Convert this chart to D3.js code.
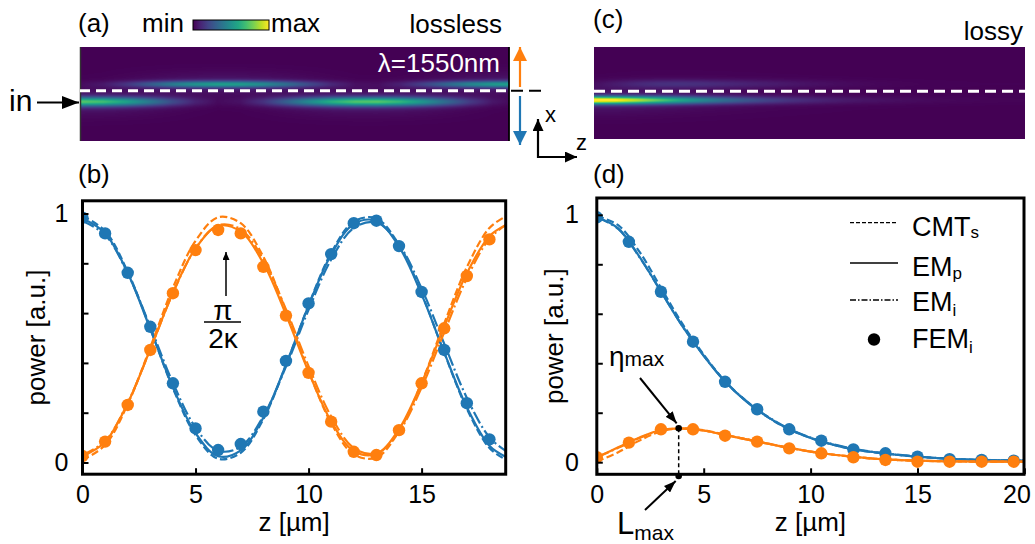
<!DOCTYPE html>
<html><head><meta charset="utf-8">
<script src="https://cdn.jsdelivr.net/npm/d3@7"></script>
<style>
html,body{margin:0;padding:0;background:#fff;}
svg{display:block;font-family:"Liberation Sans",Arial,Helvetica,sans-serif;}
</style></head>
<body><svg id="chart" width="1035" height="544"></svg>
<script>
// ---------------- DATA ----------------
// panel (b): lossless, z in µm
const zB = [0,1,2,3,4,5,6,7,8,9,10,11,12,13,14,15,16,17,18,18.72];
const blueCMT_B = [0.99,0.930,0.766,0.537,0.298,0.110,0.015,0.039,0.174,0.391,0.632,0.842,0.968,0.980,0.875,0.679,0.441,0.216,0.058,0.012];
const blueEMp_B = [0.98,0.921,0.761,0.536,0.302,0.118,0.025,0.049,0.180,0.393,0.630,0.835,0.958,0.970,0.867,0.675,0.442,0.222,0.067,0.023];
const blueEMi_B = [0.970,0.914,0.760,0.545,0.320,0.140,0.047,0.063,0.186,0.385,0.613,0.815,0.942,0.964,0.876,0.699,0.477,0.260,0.101,0.047];
const orangeCMT_B = [0.010,0.070,0.234,0.463,0.702,0.890,0.985,0.961,0.826,0.609,0.368,0.158,0.032,0.020,0.125,0.321,0.559,0.784,0.942,0.988];
const orangeEMp_B = [0.025,0.082,0.238,0.455,0.682,0.860,0.950,0.927,0.800,0.594,0.364,0.165,0.046,0.034,0.134,0.320,0.546,0.760,0.909,0.953];
const orangeEMi_B = [0.030,0.086,0.240,0.455,0.680,0.860,0.953,0.937,0.814,0.615,0.387,0.185,0.058,0.036,0.124,0.301,0.523,0.740,0.899,0.954];
const zFemB = [0,1,2,3,4,5,6,7,8,9,10,11,12,13,14,15,16,17,18];
const blueFem_B = [0.983,0.92,0.762,0.545,0.318,0.137,0.05,0.074,0.204,0.408,0.639,0.837,0.961,0.971,0.869,0.685,0.452,0.238,0.093];
const orangeFem_B = [0.026,0.084,0.231,0.452,0.68,0.853,0.934,0.92,0.786,0.59,0.36,0.164,0.043,0.03,0.13,0.318,0.539,0.749,0.896];

// panel (d): lossy
const zD = [0,1,2,3,4,5,6,7,8,9,10,11,12,13,14,15,16,17,18,19,20];
const blueCMT_D = [0.995,0.958,0.85,0.705,0.56,0.435,0.327,0.246,0.182,0.133,0.098,0.072,0.052,0.040,0.030,0.022,0.016,0.012,0.009,0.007,0.006];
const blueEMp_D = [0.99,0.945,0.83,0.69,0.55,0.43,0.325,0.245,0.182,0.133,0.098,0.072,0.052,0.040,0.030,0.022,0.016,0.012,0.009,0.007,0.006];
const blueEMi_D = [0.99,0.943,0.828,0.69,0.551,0.431,0.327,0.247,0.184,0.135,0.1,0.074,0.054,0.041,0.031,0.023,0.017,0.012,0.009,0.007,0.006];
const orangeCMT_D = [0.003,0.04,0.088,0.124,0.137,0.129,0.111,0.093,0.075,0.058,0.043,0.031,0.022,0.014,0.009,0.006,0.004,0.003,0.002,0.002,0.002];
const orangeEMp_D = [0.02,0.06,0.1,0.13,0.137,0.128,0.11,0.092,0.075,0.058,0.043,0.031,0.022,0.014,0.009,0.006,0.004,0.003,0.002,0.002,0.002];
const orangeEMi_D = [0.02,0.058,0.098,0.128,0.136,0.128,0.11,0.092,0.075,0.058,0.043,0.031,0.022,0.014,0.009,0.006,0.004,0.003,0.002,0.002,0.002];
const zFemD = [0,1.5,3,4.5,6,7.5,9,10.5,12,13.5,15,16.5,18,19.5];
const blueFem_D = [0.99,0.891,0.689,0.487,0.325,0.214,0.133,0.087,0.052,0.036,0.022,0.012,0.009,0.006];
const orangeFem_D = [0.02,0.079,0.133,0.133,0.107,0.083,0.056,0.036,0.02,0.009,0.002,0.002,0.002,0.002];
const etaMax = {z: 3.83, v: 0.137};

// ticks & labels
const xTicksB = [0,5,10,15];
const xTicksD = [0,5,10,15,20];
const yTicks = [0,0.2,0.4,0.6,0.8,1];
const yLabelled = [0,1];
const legendItems = [
  {name:"CMT", sub:"s", type:"dashed"},
  {name:"EM", sub:"p", type:"solid"},
  {name:"EM", sub:"i", type:"dashdot"},
  {name:"FEM", sub:"i", type:"dot"}
];

// ---------------- DRAW ----------------
const svg = d3.select('#chart');
const BLUE = '#1f77b4', ORANGE = '#ff7f0e';
const defs = svg.append('defs');

function marker(id, color, len, wid){
  defs.append('marker').attr('id', id)
    .attr('viewBox', `0 0 ${len} ${wid}`).attr('refX', len).attr('refY', wid/2)
    .attr('markerWidth', len).attr('markerHeight', wid)
    .attr('markerUnits', 'userSpaceOnUse').attr('orient', 'auto')
    .append('path').attr('d', `M0,0 L${len},${wid/2} L0,${wid} Z`).attr('fill', color);
}
marker('hIn', '#000', 17, 13);
marker('hOr', ORANGE, 14, 14);
marker('hBl', BLUE, 14, 14);
marker('hAx', '#000', 12, 11);
marker('hSm', '#000', 8, 7);
marker('hAn', '#000', 12, 9);

function arrow(x1,y1,x2,y2,color,mk,w){
  svg.append('line').attr('x1',x1).attr('y1',y1).attr('x2',x2).attr('y2',y2)
    .attr('stroke',color).attr('stroke-width',w).attr('marker-end',`url(#${mk})`);
}
function txt(x,y,s,size,anchor,color){
  return svg.append('text').attr('x',x).attr('y',y).attr('font-size',size)
    .attr('text-anchor',anchor||'start').attr('fill',color||'#000').text(s);
}

// heat maps --------------------------------------------------------
const lut = d3.range(256).map(i => d3.rgb(d3.interpolateViridis(i/255)));
function heat(o){
  const c = document.createElement('canvas'); c.width = o.w; c.height = o.h;
  const ctx = c.getContext('2d'); const img = ctx.createImageData(o.w, o.h);
  const fL = d3.scaleLinear().domain(o.z).range(o.lower).clamp(true);
  const fU = d3.scaleLinear().domain(o.z).range(o.upper).clamp(true);
  const zs = d3.scaleLinear().domain([0, o.w]).range([0, o.zMax]);
  for (let i = 0; i < o.w; i++){
    const z = zs(i + 0.5), pl = fL(z), pu = fU(z);
    for (let j = 0; j < o.h; j++){
      const yy = o.y + j + 0.5;
      const gL = Math.exp(-0.5*Math.pow((yy-o.cL)/o.sL,2));
      const gU = Math.exp(-0.5*Math.pow((yy-o.cU)/o.sU,2));
      const halo = Math.exp(-0.5*Math.pow((yy-o.cL)/9,2))*0.07*pl + Math.exp(-0.5*Math.pow((yy-o.cU)/8,2))*0.06*pu;
      let v = o.kL*pl*gL + o.kU*pu*gU + halo;
      v = Math.max(0, Math.min(1, v));
      const col = lut[Math.round(v*255)];
      const k = (j*o.w + i)*4;
      img.data[k] = col.r; img.data[k+1] = col.g; img.data[k+2] = col.b; img.data[k+3] = 255;
    }
  }
  ctx.putImageData(img, 0, 0);
  svg.append('image').attr('x', o.x).attr('y', o.y).attr('width', o.w).attr('height', o.h)
    .attr('preserveAspectRatio','none').attr('href', c.toDataURL());
}
heat({x:80, y:47, w:429, h:94, zMax:18.72, z:zB, lower:blueEMp_B, upper:orangeEMp_B,
      cL:101.7, sL:3.2, cU:84.3, sU:2.4, kL:0.68, kU:0.52});
heat({x:594, y:47, w:431, h:92, zMax:20, z:zD, lower:blueEMp_D, upper:orangeEMp_D,
      cL:100.2, sL:2.8, cU:84, sU:3, kL:1.0, kU:0.9});

// (a) decorations
svg.append('line').attr('x1',80.5).attr('x2',80.5).attr('y1',47).attr('y2',141).attr('stroke','#333').attr('stroke-width',1.5);
svg.append('line').attr('x1',509).attr('x2',509).attr('y1',47).attr('y2',141).attr('stroke','#000').attr('stroke-width',1.8);
svg.append('line').attr('x1',80).attr('x2',509).attr('y1',90.7).attr('y2',90.7)
  .attr('stroke','#fff').attr('stroke-width',3).attr('stroke-dasharray','10,6');
svg.append('line').attr('x1',511).attr('x2',543).attr('y1',90.7).attr('y2',90.7)
  .attr('stroke','#000').attr('stroke-width',2).attr('stroke-dasharray','12,6');
svg.append('line').attr('x1',594).attr('x2',1025).attr('y1',91.3).attr('y2',91.3)
  .attr('stroke','#fff').attr('stroke-width',3).attr('stroke-dasharray','11,6');

arrow(520, 87, 520, 47, ORANGE, 'hOr', 2.2);
arrow(520, 96, 520, 145, BLUE, 'hBl', 2.2);
arrow(37, 102.5, 79, 102.5, '#000', 'hIn', 2.2);
txt(9, 111, 'in', 30);
arrow(538, 158, 538, 119, '#000', 'hAx', 2.2);
arrow(537, 157, 577, 157, '#000', 'hAx', 2.2);
txt(545, 122, 'x', 22);
txt(576, 150, 'z', 22);

// colour bar
const grad = defs.append('linearGradient').attr('id','vir');
d3.range(11).forEach(i => grad.append('stop').attr('offset', i/10).attr('stop-color', d3.interpolateViridis(i/10)));
svg.append('rect').attr('x',193).attr('y',20).attr('width',76).attr('height',10)
  .attr('fill','url(#vir)').attr('stroke','#000').attr('stroke-width',1);
txt(78, 32, '(a)', 26);
txt(142, 32, 'min', 26);
txt(271, 32, 'max', 26);
txt(502, 33, 'lossless', 26, 'end');
txt(500, 72, 'λ=1550nm', 26, 'end', '#fff');
txt(593, 28, '(c)', 26);
txt(1023, 40, 'lossy', 26, 'end');
txt(78, 183, '(b)', 26);
txt(593, 183, '(d)', 26);

// line plots ------------------------------------------------------
function panel(cfg){
  const x = d3.scaleLinear().domain(cfg.xDom).range(cfg.xRange);
  const y = d3.scaleLinear().domain([0,1]).range(cfg.yRange);
  const g = svg.append('g');
  const clipId = 'clip' + cfg.id;
  defs.append('clipPath').attr('id', clipId).append('rect')
    .attr('x', cfg.xRange[0]).attr('y', cfg.top).attr('width', cfg.right - cfg.xRange[0]).attr('height', cfg.bottom - cfg.top);
  const plot = g.append('g').attr('clip-path', `url(#${clipId})`);
  const line = d3.line().x((d,i)=>x(cfg.z[i])).y(d=>y(d)).curve(d3.curveCatmullRom.alpha(0.5));
  const styles = {dashed:'7.4,3.2', solid:null, dashdot:'12.8,3.2,2,3.2'};
  cfg.series.forEach(s => {
    plot.append('path').attr('d', line(s.v)).attr('fill','none').attr('stroke', s.color)
      .attr('stroke-width', 2.2).attr('stroke-dasharray', styles[s.type]);
  });
  cfg.dots.forEach(s => {
    plot.selectAll(null).data(s.v).enter().append('circle')
      .attr('cx',(d,i)=>x(s.z[i])).attr('cy',d=>y(d)).attr('r',6.2).attr('fill',s.color);
  });
  // axes
  const ax = g.append('g').attr('transform', `translate(0,${cfg.bottom})`)
    .call(d3.axisBottom(x).tickValues(cfg.xTicks).tickSize(-6).tickPadding(11).tickFormat(d3.format('d')));
  const ay = g.append('g').attr('transform', `translate(${cfg.xRange[0]},0)`)
    .call(d3.axisLeft(y).tickValues(yTicks).tickSize(-6).tickPadding(cfg.yPad)
      .tickFormat(d => yLabelled.includes(d) ? d3.format('d')(d) : ''));
  [ax, ay].forEach(a => {
    a.select('.domain').remove();
    a.selectAll('line').attr('stroke','#000').attr('stroke-width',2);
    a.selectAll('text').attr('font-size',25).attr('fill','#000').attr('font-family','"Liberation Sans",Arial,sans-serif');
  });
  // keep the last tick label inside the window, as in the reference
  ax.selectAll('text').filter(d => d === 20).attr('dx', -8);
  g.append('rect').attr('x', cfg.xRange[0]).attr('y', cfg.top)
    .attr('width', cfg.right - cfg.xRange[0]).attr('height', cfg.bottom - cfg.top)
    .attr('fill','none').attr('stroke','#000').attr('stroke-width',3);
  // axis labels
  g.append('text').attr('x', (cfg.xRange[0]+cfg.right)/2).attr('y', 531).attr('text-anchor','middle')
    .attr('font-size',26).text('z [µm]');
  g.append('text').attr('transform', `translate(${cfg.ylabX},${(cfg.top+cfg.bottom)/2}) rotate(-90)`)
    .attr('text-anchor','middle').attr('font-size',26).text('power [a.u.]');
  return {x, y};
}

panel({id:'b', xDom:[0,18.72], xRange:[82.5,505.7], right:505.7, yRange:[462.5,213.5], top:200.8, bottom:474.2,
  xTicks:xTicksB, yPad:14, ylabX:45, z:zB,
  series:[
    {v:blueCMT_B, color:BLUE, type:'dashed'}, {v:blueEMi_B, color:BLUE, type:'dashdot'}, {v:blueEMp_B, color:BLUE, type:'solid'},
    {v:orangeCMT_B, color:ORANGE, type:'dashed'}, {v:orangeEMi_B, color:ORANGE, type:'dashdot'}, {v:orangeEMp_B, color:ORANGE, type:'solid'}],
  dots:[{z:zFemB, v:blueFem_B, color:BLUE}, {z:zFemB, v:orangeFem_B, color:ORANGE}]});

const pd = panel({id:'d', xDom:[0,20], xRange:[596.8,1024.4], right:1024, yRange:[462.2,214.8], top:198, bottom:474.3,
  xTicks:xTicksD, yPad:18, ylabX:563, z:zD,
  series:[
    {v:blueCMT_D, color:BLUE, type:'dashed'}, {v:blueEMi_D, color:BLUE, type:'dashdot'}, {v:blueEMp_D, color:BLUE, type:'solid'},
    {v:orangeCMT_D, color:ORANGE, type:'dashed'}, {v:orangeEMi_D, color:ORANGE, type:'dashdot'}, {v:orangeEMp_D, color:ORANGE, type:'solid'}],
  dots:[{z:zFemD, v:blueFem_D, color:BLUE}, {z:zFemD, v:orangeFem_D, color:ORANGE}]});

// (b) annotation pi / 2kappa
arrow(226, 296, 226, 252, '#000', 'hSm', 1.5);
txt(223, 320, 'π', 28, 'middle');
svg.append('line').attr('x1',204).attr('x2',241).attr('y1',322).attr('y2',322).attr('stroke','#000').attr('stroke-width',1.6);
txt(223, 348, '2κ', 28, 'middle');

// (d) eta_max / L_max
const ex = pd.x(etaMax.z), ey = pd.y(etaMax.v);
svg.append('line').attr('x1',ex).attr('x2',ex).attr('y1',ey).attr('y2',476)
  .attr('stroke','#000').attr('stroke-width',1.5).attr('stroke-dasharray','4,3');
svg.append('circle').attr('cx',ex).attr('cy',ey).attr('r',3.3).attr('fill','#000');
svg.append('circle').attr('cx',ex).attr('cy',476).attr('r',3.3).attr('fill','#000');
arrow(640, 378, ex-2, ey-5, '#000', 'hAn', 2);
arrow(645, 510, ex-3, 481, '#000', 'hAn', 2);
const t1 = svg.append('text').attr('x',609).attr('y',366);
t1.append('tspan').attr('font-size',28).text('η');
t1.append('tspan').attr('font-size',21).text('max');
const t2 = svg.append('text').attr('x',617).attr('y',534);
t2.append('tspan').attr('font-size',31).text('L');
t2.append('tspan').attr('font-size',21).attr('dy',6).text('max');

// legend
const lg = svg.append('g');
const legY = [222.7, 263, 300, 339.5];
const legBase = [236, 276, 311, 348];
const subDy = [2, 3, 5, 5];
legendItems.forEach((d,i) => {
  if (d.type === 'dot') {
    lg.append('circle').attr('cx',874).attr('cy',legY[i]).attr('r',6.2).attr('fill','#000');
  } else {
    lg.append('line').attr('x1',850).attr('x2',898).attr('y1',legY[i]).attr('y2',legY[i])
      .attr('stroke','#000').attr('stroke-width',1.3)
      .attr('stroke-dasharray', d.type==='dashed' ? '4,2' : d.type==='dashdot' ? '6,2,1.5,2' : null);
  }
  const t = lg.append('text').attr('x',912).attr('y',legBase[i]).attr('font-size',27);
  t.append('tspan').text(d.name);
  t.append('tspan').attr('font-size',17).attr('dy',subDy[i]).text(d.sub);
});
</script>
</body></html>
